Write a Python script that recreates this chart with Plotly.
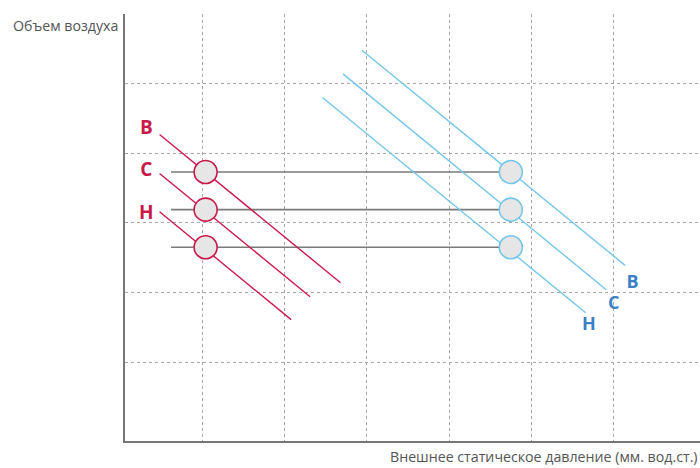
import plotly.graph_objects as go

# Axis units: grid lines sit at whole numbers (no tick labels in the original)
grid_x = [1, 2, 3, 4, 5, 6]
grid_y = [1, 2, 3, 4, 5]

labels = ['B', 'C', 'H']

# operating points (horizontal reference lines)
point_y = [3.73, 3.19, 2.65]
red_point_x = 1.04
blue_point_x = 4.75
ref_line_start_x = 0.62

# red fan curves: start/end points
red_x0 = [0.48, 0.48, 0.48]
red_y0 = [4.27, 3.71, 3.16]
red_x1 = [2.68, 2.31, 2.08]
red_y1 = [2.14, 1.94, 1.61]

# blue fan curves: start/end points
blue_x0 = [2.94, 2.71, 2.46]
blue_y0 = [5.48, 5.14, 4.80]
blue_x1 = [6.14, 5.91, 5.66]
blue_y1 = [2.39, 2.04, 1.71]

# label positions
red_label_x = [0.32, 0.32, 0.32]
red_label_y = [4.35, 3.74, 3.12]
blue_label_x = [6.23, 6.00, 5.70]
blue_label_y = [2.13, 1.83, 1.53]

RED = '#c8194b'
BLUE_LINE = '#74c6ea'
BLUE_TEXT = '#3b7fc4'
GREY = '#7a7a7a'

fig = go.Figure()

# horizontal reference lines
for y in point_y:
    fig.add_trace(go.Scatter(
        x=[ref_line_start_x, blue_point_x], y=[y, y],
        mode='lines', line=dict(color=GREY, width=1.6),
        hoverinfo='skip', showlegend=False
    ))

# red curves
for i in range(3):
    fig.add_trace(go.Scatter(
        x=[red_x0[i], red_x1[i]], y=[red_y0[i], red_y1[i]],
        mode='lines', line=dict(color=RED, width=1.4),
        hoverinfo='skip', showlegend=False
    ))

# blue curves
for i in range(3):
    fig.add_trace(go.Scatter(
        x=[blue_x0[i], blue_x1[i]], y=[blue_y0[i], blue_y1[i]],
        mode='lines', line=dict(color=BLUE_LINE, width=1.4),
        hoverinfo='skip', showlegend=False
    ))

# operating point circles
fig.add_trace(go.Scatter(
    x=[red_point_x] * 3, y=point_y, mode='markers',
    marker=dict(size=23, color='#e6e6e6', line=dict(color=RED, width=1.6)),
    hoverinfo='skip', showlegend=False
))
fig.add_trace(go.Scatter(
    x=[blue_point_x] * 3, y=point_y, mode='markers',
    marker=dict(size=23, color='#e6e6e6', line=dict(color=BLUE_LINE, width=1.6)),
    hoverinfo='skip', showlegend=False
))

# curve labels
fig.add_trace(go.Scatter(
    x=red_label_x, y=red_label_y, mode='text', text=labels,
    textfont=dict(family='Open Sans', size=19, color=RED, weight='bold'),
    hoverinfo='skip', showlegend=False
))
fig.add_trace(go.Scatter(
    x=blue_label_x, y=blue_label_y, mode='text', text=labels,
    textfont=dict(family='Open Sans', size=18, color=BLUE_TEXT, weight='bold'),
    hoverinfo='skip', showlegend=False
))

fig.update_layout(
    width=700, height=468,
    margin=dict(l=125, r=0, t=14, b=27),
    paper_bgcolor='white', plot_bgcolor='white',
    font=dict(family='Open Sans', color='#555555'),
    xaxis=dict(
        range=[0.06, 7.05], tickvals=grid_x, showticklabels=False,
        showgrid=True, gridcolor='#a8a8a8', griddash='dot', gridwidth=1,
        zeroline=False, showline=True, linecolor='#777777', linewidth=2,
        fixedrange=True
    ),
    yaxis=dict(
        range=[-0.133, 6.0], tickvals=grid_y, showticklabels=False,
        showgrid=True, gridcolor='#a8a8a8', griddash='dot', gridwidth=1,
        zeroline=False, showline=True, linecolor='#777777', linewidth=2,
        fixedrange=True
    ),
    annotations=[
        dict(text='Объем воздуха', xref='paper', yref='paper',
             x=-0.009, y=0.999, xanchor='right', yanchor='top',
             showarrow=False, font=dict(size=14.2, color='#555555')),
        dict(text='Внешнее статическое давление (мм. вод.ст.)', xref='paper', yref='paper',
             x=1.0, y=-0.010, xanchor='right', yanchor='top',
             showarrow=False, font=dict(size=14.2, color='#555555')),
    ]
)

# drop the page's default body margin so the 700x468 figure fills the window
fig.write_html("out.html", config={'displayModeBar': False},
               post_script="document.body.style.margin='0';")
